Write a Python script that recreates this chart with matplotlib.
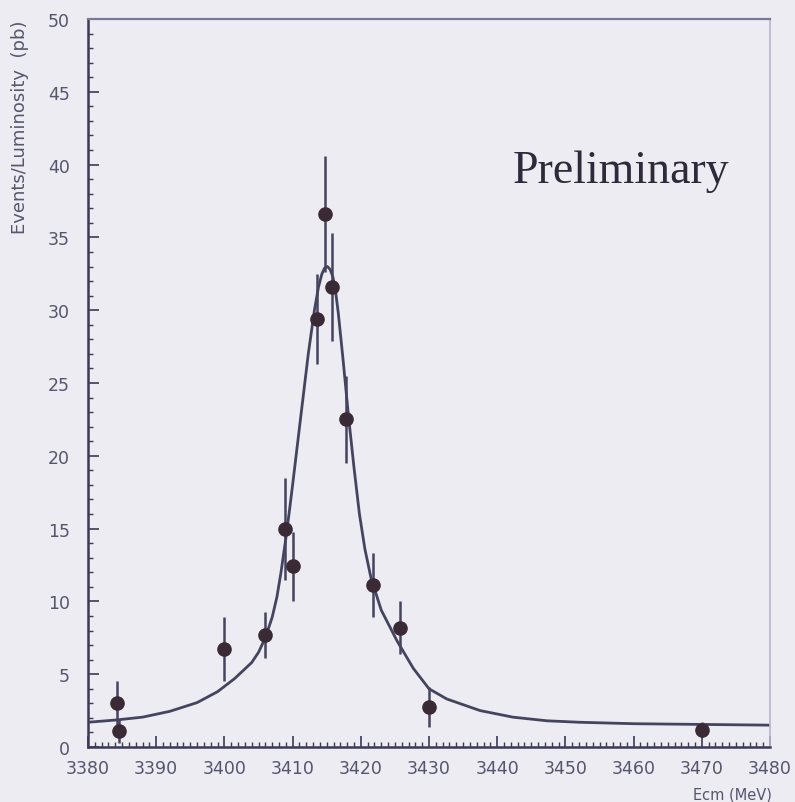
import matplotlib
matplotlib.use("Agg")
import matplotlib.pyplot as plt
from matplotlib.ticker import MultipleLocator

# measured points: Ecm (MeV), events/luminosity (pb), symmetric error
ecm = [3384.3, 3384.5, 3400.0, 3406.0, 3408.9, 3410.1, 3413.6, 3414.75,
       3415.8, 3417.9, 3421.8, 3425.8, 3430.0, 3470.0]
sigma = [3.0, 1.1, 6.7, 7.7, 15.0, 12.4, 29.4, 36.6,
         31.6, 22.5, 11.1, 8.2, 2.75, 1.2]
sigma_err = [1.5, 0.8, 2.2, 1.6, 3.5, 2.4, 3.1, 4.0,
             3.7, 3.0, 2.2, 1.8, 1.4, 0.5]

# fit curve
fit_x = [3380, 3384, 3388, 3392, 3396, 3399, 3401.5, 3404, 3405, 3406, 3407,
         3407.7, 3408.3, 3409, 3409.5, 3410, 3411.2, 3412.3, 3413.2, 3413.8,
         3414.3, 3414.7, 3415.1, 3415.5, 3415.9, 3416.3, 3416.7, 3417.4,
         3418.2, 3419, 3419.8, 3420.6, 3421.5, 3423, 3425.3, 3427.7, 3430,
         3432.6, 3437.5, 3442.3, 3447.3, 3452, 3460, 3470, 3480]
fit_y = [1.7, 1.85, 2.05, 2.45, 3.05, 3.8, 4.7, 5.8, 6.5, 7.5, 8.9,
         10.3, 12.0, 14.3, 16.1, 18.0, 22.7, 27.0, 30.0, 31.6,
         32.5, 32.9, 33.0, 32.8, 32.3, 31.3, 29.8, 26.6,
         22.7, 19.2, 16.0, 13.6, 11.6, 9.4, 7.3, 5.4, 4.0,
         3.3, 2.5, 2.05, 1.8, 1.7, 1.6, 1.55, 1.5]

bg = '#ececf2'
ink = '#3c3a55'
label_col = '#55556e'

fig = plt.figure(figsize=(7.95, 8.03), dpi=100, facecolor=bg)
ax = fig.add_axes([88 / 795, 55 / 803, 682 / 795, 728 / 803], facecolor=bg)

ax.plot(fit_x, fit_y, '-', color='#45445f', lw=2.0, zorder=2)
ax.errorbar(ecm, sigma, yerr=sigma_err, fmt='o', color='#3a2a35',
            ecolor='#45445f', elinewidth=1.8, capsize=0, markersize=9.5, zorder=3)

ax.set_xlim(3380, 3480)
ax.set_ylim(0, 50)
ax.xaxis.set_major_locator(MultipleLocator(10))
ax.xaxis.set_minor_locator(MultipleLocator(1))
ax.yaxis.set_major_locator(MultipleLocator(5))
ax.yaxis.set_minor_locator(MultipleLocator(1))
ax.tick_params(which='both', direction='in', colors=ink, labelcolor=label_col,
               labelsize=12.5, top=False, right=False)
ax.tick_params(which='major', length=8, width=1.2)
ax.tick_params(axis='x', which='major', pad=9)
ax.tick_params(axis='y', which='major', pad=13)
ax.tick_params(which='minor', length=3.5, width=1.0)

for side in ['left', 'bottom']:
    ax.spines[side].set_color(ink)
    ax.spines[side].set_linewidth(1.8)
ax.spines['top'].set_color('#7a7898')
ax.spines['top'].set_linewidth(1.6)
ax.spines['right'].set_color('#b8b6cc')
ax.spines['right'].set_linewidth(1.2)

fig.text(20 / 795, 1 - 20 / 803, 'Events/Luminosity  (pb)', rotation=90,
         ha='center', va='top', fontsize=13, color=label_col)
fig.text(772 / 795, 1 - 795 / 803, 'Ecm (MeV)', ha='right', va='center',
         fontsize=10.5, color=label_col)

ax.text(3442.2, 38.8, 'Preliminary', fontsize=33, family='Liberation Serif',
        color='#2e2a3a', ha='left', va='baseline')

fig.savefig('out.png', dpi=100, facecolor=bg)
